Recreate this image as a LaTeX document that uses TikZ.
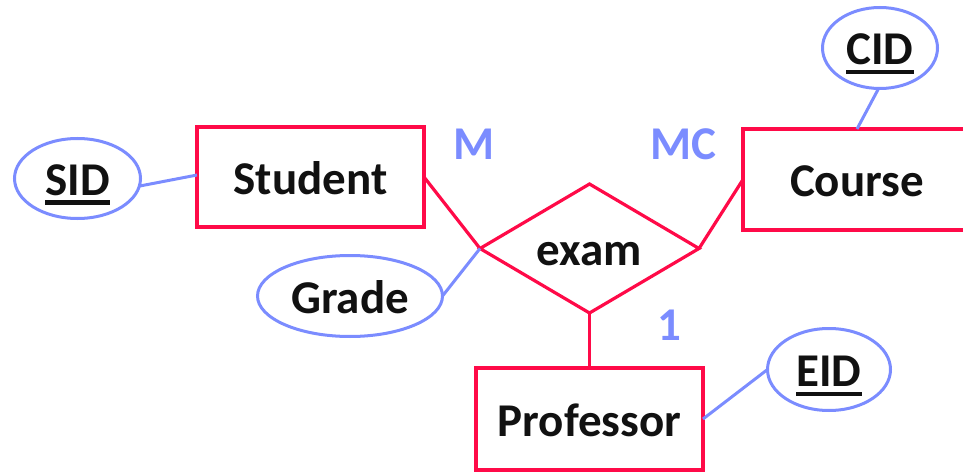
\documentclass[tikz,border=0pt]{standalone}
\usepackage{fontspec}
\setmainfont{Carlito}
\usetikzlibrary{shapes.geometric}
\definecolor{erred}{HTML}{FF0A48}
\definecolor{erblue}{HTML}{7B8CFF}
\definecolor{ink}{HTML}{111111}
% thick underline for key attributes
\newcommand\keyattr[1]{\setbox0\hbox{#1}\rlap{\raisebox{-9pt}{\rule{\wd0}{4pt}}}\box0}
\tikzset{
  every node/.style={font=\fontsize{47}{50}\selectfont\bfseries, text=ink,
    outer sep=0pt, inner sep=0pt, text height=34pt, text depth=0pt},
  entity/.style={draw=erred, line width=3.2pt, rectangle, fill=white},
  relation/.style={draw=erred, line width=3.2pt, diamond, shape aspect=1.7, fill=white},
  attrib/.style={draw=erblue, line width=3pt, ellipse, fill=white},
  redline/.style={draw=erred, line width=3.2pt},
  blueline/.style={draw=erblue, line width=3pt},
  card/.style={text=erblue}
}
\begin{document}
\begin{tikzpicture}[x=1pt, y=-1pt]
\path[use as bounding box] (0,0) rectangle (963,473);

% entities
\node[entity, minimum width=227pt, minimum height=100pt] (student) at (310.5,177) {Student};
\node[entity, minimum width=228pt, minimum height=101pt] (course) at (857,179.5) {Course};
\node[entity, minimum width=227pt, minimum height=102pt] (prof) at (589.5,419) {Professor};

% relationship
\node[relation, minimum width=219pt, minimum height=129pt] (exam) at (589.5,248.5) {exam};

% attributes
\node[attrib, minimum width=126pt, minimum height=80pt] (sid) at (77.5,178.5) {\keyattr{SID}};
\node[attrib, minimum width=115pt, minimum height=81pt] (cid) at (880,48) {\keyattr{CID}};
\node[attrib, minimum width=185pt, minimum height=81pt] (grade) at (350,296) {Grade};
\node[attrib, minimum width=123pt, minimum height=82pt] (eid) at (829,369.5) {\keyattr{EID}};

% cardinalities
\node[card] (cm) at (474,143) {M};
\node[card] (cmc) at (683,143) {MC};
\node[card] (c1) at (669,323) {1};

% relationship links
\draw[redline] (student.east) -- (exam.west);
\draw[redline] (exam.east) -- (course.west);
\draw[redline] (exam.south) -- (prof.north);

% attribute links
\draw[blueline] (sid.-7) -- (student.179);
\draw[blueline] (cid.-92) -- (course.north);
\draw[blueline] (grade.east) -- (exam.west);
\draw[blueline] (prof.east) -- (eid.west);
\end{tikzpicture}
\end{document}
